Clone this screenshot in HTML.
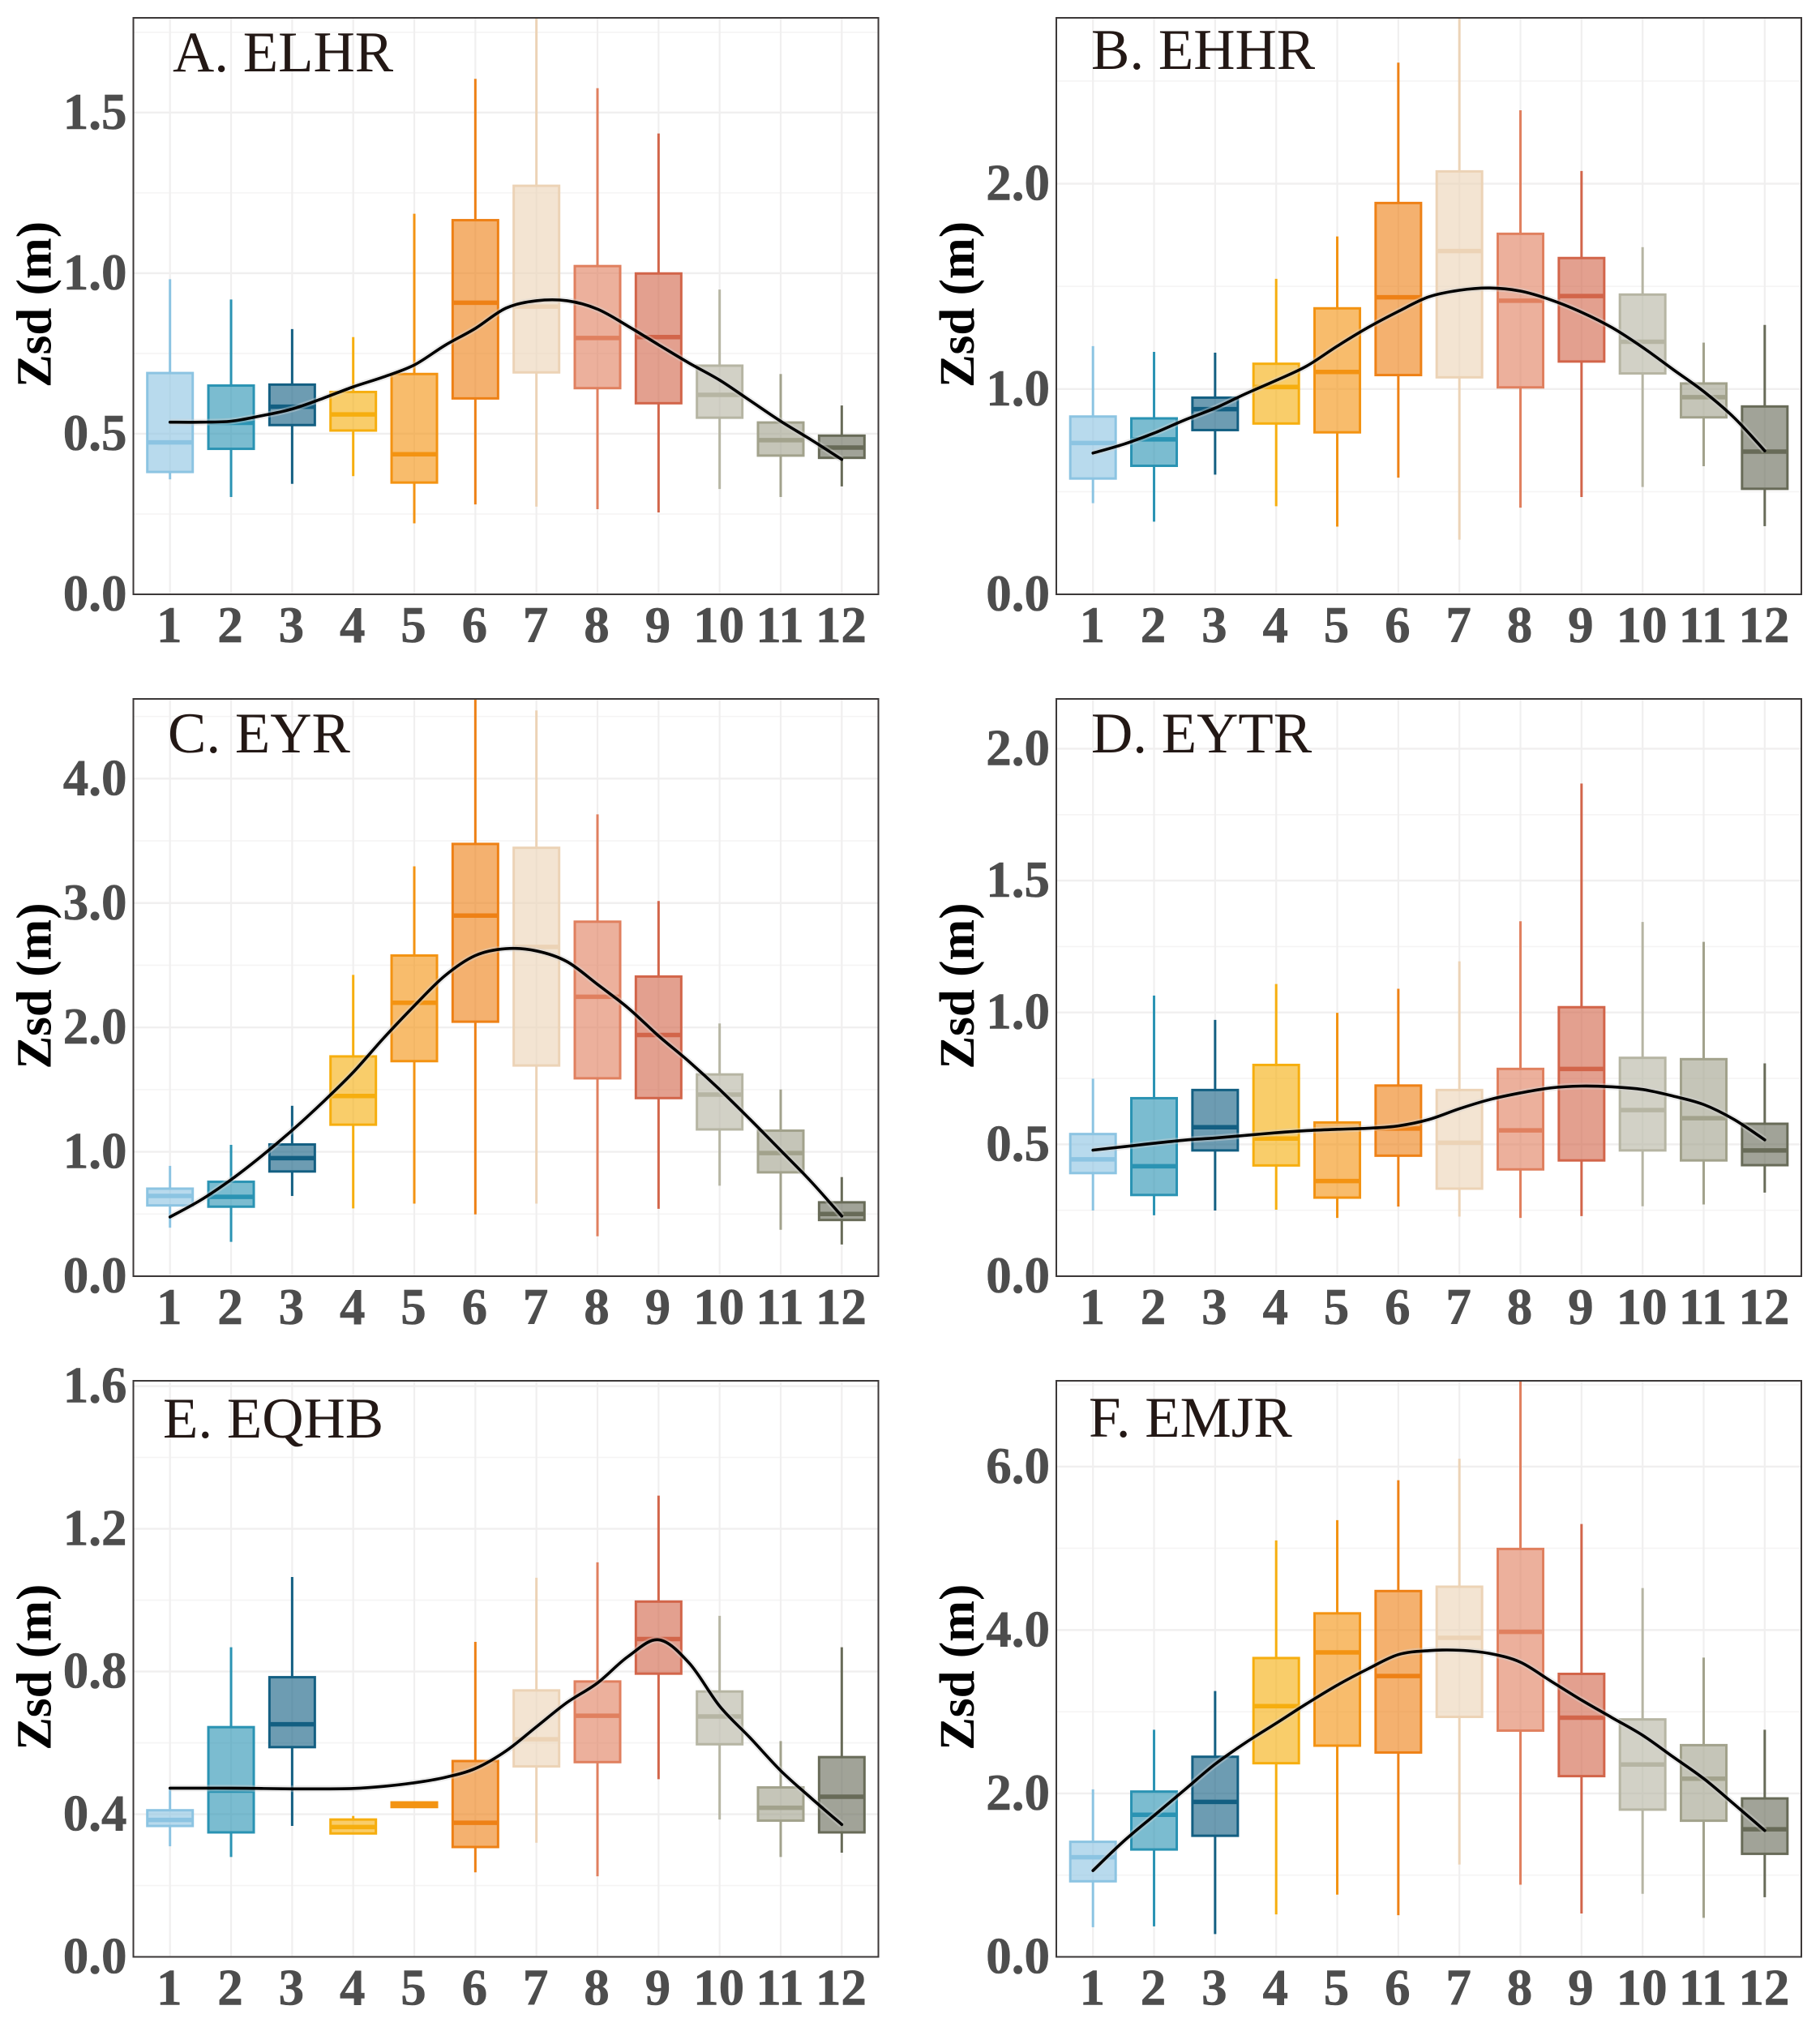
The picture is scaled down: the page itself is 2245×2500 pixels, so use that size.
<!DOCTYPE html>
<html lang="en">
<head>
<meta charset="utf-8">
<title>Monthly Zsd box plots</title>
<style>
html,body{margin:0;padding:0;background:#fff}
svg{display:block}
text{font-family:"Liberation Serif",serif}
</style>
</head>
<body>
<svg id="chart" xmlns="http://www.w3.org/2000/svg" width="2245" height="2500" viewBox="0 0 2245 2500"></svg>
<script>
const months = [1,2,3,4,5,6,7,8,9,10,11,12];
const monthColors = ['#8cc4e2','#2a93b3','#135f82','#f6ae0f','#f39312','#ee8116','#ecd3b6','#e0805f','#d2654a','#b6b5a3','#a2a28c','#686b58'];
const lineMonths = [1,1.5,2,2.5,3,3.5,4,4.5,5,5.5,6,6.5,7,7.5,8,8.5,9,9.5,10,10.5,11,11.5,12];

const elhrHigh = [.981,.918,.826,.801,1.185,1.605,1.85,1.576,1.435,.949,.686,.588];
const elhrQ3 = [.689,.650,.653,.630,.686,1.165,1.272,1.022,.999,.712,.535,.494];
const elhrMedian = [.473,.534,.584,.560,.436,.908,.896,.798,.801,.621,.480,.457];
const elhrQ1 = [.381,.453,.527,.510,.348,.610,.691,.642,.595,.550,.432,.425];
const elhrLow = [.358,.303,.344,.368,.221,.280,.273,.265,.255,.328,.303,.336];
const elhrLine = [.536,.536,.539,.556,.577,.610,.646,.677,.714,.775,.828,.891,.914,.914,.888,.835,.777,.720,.667,.603,.539,.481,.420];
const elhrTicks = [0,.5,1,1.5];
const elhrMinor = [.25,.75,1.25,1.75];

const ehhrHigh = [1.209,1.181,1.177,1.537,1.743,2.59,2.85,2.358,2.062,1.691,1.226,1.312];
const ehhrQ3 = [.866,.857,.958,1.123,1.393,1.906,2.06,1.756,1.638,1.46,1.027,.915];
const ehhrMedian = [.737,.755,.902,1.01,1.083,1.447,1.672,1.43,1.453,1.23,.96,.695];
const ehhrQ1 = [.564,.626,.80,.832,.789,1.068,1.057,1.008,1.134,1.076,.862,.514];
const ehhrLow = [.444,.354,.583,.429,.33,.568,.266,.422,.474,.523,.624,.332];
const ehhrLine = [.688,.731,.785,.849,.907,.977,1.042,1.112,1.209,1.299,1.378,1.449,1.481,1.492,1.477,1.434,1.374,1.299,1.203,1.095,.988,.86,.699];
const ehhrTicks = [0,1,2];
const ehhrMinor = [.5,1.5,2.5];

const eyrHigh = [.887,1.056,1.37,2.422,3.295,4.7,4.548,3.713,3.016,2.032,1.501,.797];
const eyrQ3 = [.704,.759,1.059,1.767,2.578,3.475,3.444,2.85,2.409,1.622,1.17,.594];
const eyrMedian = [.645,.638,.949,1.449,2.198,2.899,2.647,2.246,1.939,1.46,.99,.5];
const eyrQ1 = [.569,.559,.842,1.218,1.729,2.046,1.694,1.591,1.432,1.18,.835,.452];
const eyrLow = [.39,.276,.645,.545,.583,.497,.583,.321,.542,.728,.373,.255];
const eyrLine = [.476,.611,.776,.966,1.173,1.398,1.639,1.915,2.174,2.415,2.578,2.633,2.615,2.529,2.346,2.157,1.932,1.725,1.501,1.26,1.011,.759,.483];
const eyrTicks = [0,1,2,3,4];
const eyrMinor = [.5,1.5,2.5,3.5,4.5];

const eytrHigh = [.749,1.064,.972,1.108,.999,1.09,1.194,1.346,1.868,1.343,1.268,.807];
const eytrQ3 = [.539,.675,.706,.801,.583,.723,.706,.786,1.02,.828,.823,.578];
const eytrMedian = [.443,.417,.565,.522,.361,.56,.506,.553,.786,.63,.599,.477];
const eytrQ1 = [.391,.308,.477,.42,.298,.457,.332,.405,.439,.477,.439,.421];
const eytrLow = [.249,.231,.249,.252,.221,.264,.226,.221,.228,.265,.272,.317];
const eytrLine = [.478,.491,.504,.516,.524,.534,.544,.552,.557,.561,.57,.594,.635,.67,.695,.714,.721,.718,.708,.683,.651,.594,.517];
const eytrTicks = [0,.5,1,1.5,2];
const eytrMinor = [.25,.75,1.25,1.75];

const eqhbHigh = [.472,.868,1.065,.395,.433,.883,1.063,1.106,1.293,.956,.605,.868];
const eqhbQ3 = [.411,.644,.784,.385,.433,.549,.747,.772,.996,.744,.475,.56];
const eqhbMedian = [.384,.466,.652,.364,.427,.376,.61,.676,.891,.674,.418,.449];
const eqhbQ1 = [.367,.349,.588,.346,.42,.308,.534,.546,.794,.596,.382,.349];
const eqhbLow = [.31,.28,.367,.346,.42,.237,.32,.226,.498,.385,.28,.292];
const eqhbLine = [.473,.473,.473,.472,.471,.471,.472,.478,.488,.503,.528,.577,.645,.713,.768,.842,.889,.824,.703,.614,.522,.445,.371];
const eqhbTicks = [0,.4,.8,1.2,1.6];
const eqhbMinor = [.2,.6,1,1.4];

const emjrHigh = [2.05,2.78,3.253,5.097,5.344,5.833,6.096,7.1,5.297,4.514,3.663,2.78];
const emjrQ3 = [1.408,2.023,2.449,3.657,4.204,4.477,4.53,4.992,3.463,2.906,2.591,1.939];
const emjrMedian = [1.219,1.739,1.897,3.069,3.726,3.437,3.904,3.978,2.927,2.354,2.181,1.561];
const emjrQ1 = [.925,1.314,1.482,2.37,2.585,2.501,2.937,2.769,2.212,1.802,1.666,1.261];
const emjrLow = [.363,.373,.279,.52,.762,.51,1.13,.883,.531,.772,.478,.73];
const emjrLine = [1.056,1.414,1.729,2.044,2.359,2.622,2.859,3.099,3.325,3.523,3.699,3.748,3.752,3.712,3.606,3.374,3.142,2.927,2.712,2.447,2.182,1.868,1.546];
const emjrTicks = [0,2,4,6];
const emjrMinor = [1,3,5,7];

const panels = [
  {id:'elhr',title:'A. ELHR',left:164.5,top:22,bottom:733,yMax:1.795,tx:213,ty:88,high:elhrHigh,q3:elhrQ3,med:elhrMedian,q1:elhrQ1,low:elhrLow,line:elhrLine,ticks:elhrTicks,minor:elhrMinor},
  {id:'ehhr',title:'B. EHHR',left:1303,top:22,bottom:733,yMax:2.808,tx:1346,ty:85,high:ehhrHigh,q3:ehhrQ3,med:ehhrMedian,q1:ehhrQ1,low:ehhrLow,line:ehhrLine,ticks:ehhrTicks,minor:ehhrMinor},
  {id:'eyr',title:'C. EYR',left:164.5,top:862,bottom:1574,yMax:4.641,tx:207,ty:928,high:eyrHigh,q3:eyrQ3,med:eyrMedian,q1:eyrQ1,low:eyrLow,line:eyrLine,ticks:eyrTicks,minor:eyrMinor},
  {id:'eytr',title:'D. EYTR',left:1303,top:862,bottom:1574,yMax:2.189,tx:1346,ty:928,high:eytrHigh,q3:eytrQ3,med:eytrMedian,q1:eytrQ1,low:eytrLow,line:eytrLine,ticks:eytrTicks,minor:eytrMinor},
  {id:'eqhb',title:'E. EQHB',left:164.5,top:1703,bottom:2413.5,yMax:1.615,tx:201,ty:1773,high:eqhbHigh,q3:eqhbQ3,med:eqhbMedian,q1:eqhbQ1,low:eqhbLow,line:eqhbLine,ticks:eqhbTicks,minor:eqhbMinor},
  {id:'emjr',title:'F. EMJR',left:1303,top:1703,bottom:2413.5,yMax:7.05,tx:1343,ty:1772,high:emjrHigh,q3:emjrQ3,med:emjrMedian,q1:emjrQ1,low:emjrLow,line:emjrLine,ticks:emjrTicks,minor:emjrMinor}
];

const NS = 'http://www.w3.org/2000/svg';
const svg = document.getElementById('chart');
const PANEL_W = 919, X_FIRST = 45.2, X_STEP = 75.33, BOX_W = 56;

function make(parent, tag, attrs, txt) {
  const el = document.createElementNS(NS, tag);
  for (const k in attrs) el.setAttribute(k, attrs[k]);
  if (txt !== undefined) el.textContent = txt;
  parent.appendChild(el);
  return el;
}
function smoothPath(pts) {
  let d = 'M' + pts[0][0].toFixed(2) + ' ' + pts[0][1].toFixed(2);
  for (let i = 0; i < pts.length - 1; i++) {
    const p0 = pts[Math.max(i - 1, 0)], p1 = pts[i], p2 = pts[i + 1], p3 = pts[Math.min(i + 2, pts.length - 1)];
    const c1x = p1[0] + (p2[0] - p0[0]) / 6, c1y = p1[1] + (p2[1] - p0[1]) / 6;
    const c2x = p2[0] - (p3[0] - p1[0]) / 6, c2y = p2[1] - (p3[1] - p1[1]) / 6;
    d += 'C' + c1x.toFixed(2) + ' ' + c1y.toFixed(2) + ' ' + c2x.toFixed(2) + ' ' + c2y.toFixed(2) + ' ' + p2[0].toFixed(2) + ' ' + p2[1].toFixed(2);
  }
  return d;
}

panels.forEach(function (p) {
  const xScale = function (m) { return p.left + X_FIRST + (m - 1) * X_STEP; };
  const yScale = function (v) { return p.bottom - v / p.yMax * (p.bottom - p.top); };
  const right = p.left + PANEL_W;

  const g = make(svg, 'g', {});
  
  

  const defs = make(g, 'defs', {});
  const clip = make(defs, 'clipPath', {id: 'clip-' + p.id});
  make(clip, 'rect', {x: p.left, y: p.top, width: PANEL_W, height: p.bottom - p.top});

  const plot = make(g, 'g', {'clip-path': 'url(#clip-' + p.id + ')'});
  
  

  p.minor.forEach(function (v) {
    const gl = make(plot, 'line', {x1: p.left, x2: right, y1: yScale(v), y2: yScale(v), stroke: '#f5f4f4', 'stroke-width': 1.6});
    
    
  });
  p.ticks.forEach(function (v) {
    const gl = make(plot, 'line', {x1: p.left, x2: right, y1: yScale(v), y2: yScale(v), stroke: '#f0efef', 'stroke-width': 2.4});
    
    
  });
  months.forEach(function (m) {
    const gl = make(plot, 'line', {x1: xScale(m), x2: xScale(m), y1: p.top, y2: p.bottom, stroke: '#f0efef', 'stroke-width': 2.2});
    
    
  });

  months.forEach(function (m, i) {
    const c = monthColors[i], x = xScale(m);
    const box = make(plot, 'g', {});
    
    
    make(box, 'line', {x1: x, x2: x, y1: yScale(p.high[i]), y2: yScale(p.q3[i]), stroke: c, 'stroke-width': 3});
    make(box, 'line', {x1: x, x2: x, y1: yScale(p.q1[i]), y2: yScale(p.low[i]), stroke: c, 'stroke-width': 3});
    make(box, 'rect', {x: x - BOX_W / 2, y: yScale(p.q3[i]), width: BOX_W, height: yScale(p.q1[i]) - yScale(p.q3[i]), fill: c, 'fill-opacity': .62, stroke: c, 'stroke-width': 3});
    make(box, 'line', {x1: x - BOX_W / 2, x2: x + BOX_W / 2, y1: yScale(p.med[i]), y2: yScale(p.med[i]), stroke: c, 'stroke-width': 5.5});
  });

  const pts = lineMonths.map(function (m, i) { return [xScale(m), yScale(p.line[i])]; });
  const d = smoothPath(pts);
  const band = make(plot, 'path', {d: d, fill: 'none', stroke: '#cfcfcf', 'stroke-opacity': .4, 'stroke-width': 8});
  
  
  const line = make(plot, 'path', {d: d, fill: 'none', stroke: '#000', 'stroke-width': 3.6, 'stroke-linejoin': 'round', 'stroke-linecap': 'round'});
  
  

  const frame = make(g, 'rect', {x: p.left, y: p.top, width: PANEL_W, height: p.bottom - p.top, fill: 'none', stroke: '#3c3838', 'stroke-width': 2});
  
  

  p.ticks.forEach(function (v) {
    const t = make(g, 'text', {x: p.left - 8, y: yScale(v) + 20, 'text-anchor': 'end', 'font-size': 63, 'font-weight': 700, fill: '#4d4d4d', stroke: '#4d4d4d', 'stroke-width': .6}, v.toFixed(1));
    
    
  });
  months.forEach(function (m) {
    const t = make(g, 'text', {x: xScale(m) - 1, y: p.bottom + 59, 'text-anchor': 'middle', 'font-size': 63, 'font-weight': 700, fill: '#4d4d4d', stroke: '#4d4d4d', 'stroke-width': .6}, String(m));
    
    
  });

  const cy = (p.top + p.bottom) / 2 - 2, bx = p.left - 102;
  const yt = make(g, 'text', {x: bx, y: cy, transform: 'rotate(-90 ' + bx + ' ' + cy + ')', 'text-anchor': 'middle', 'font-size': 61, 'font-weight': 700, fill: '#000'}, 'Zsd (m)');
  
  

  const title = make(g, 'text', {x: p.tx, y: p.ty, 'font-size': 71, fill: '#231815'}, p.title);
  
  
});
</script>
</body>
</html>
